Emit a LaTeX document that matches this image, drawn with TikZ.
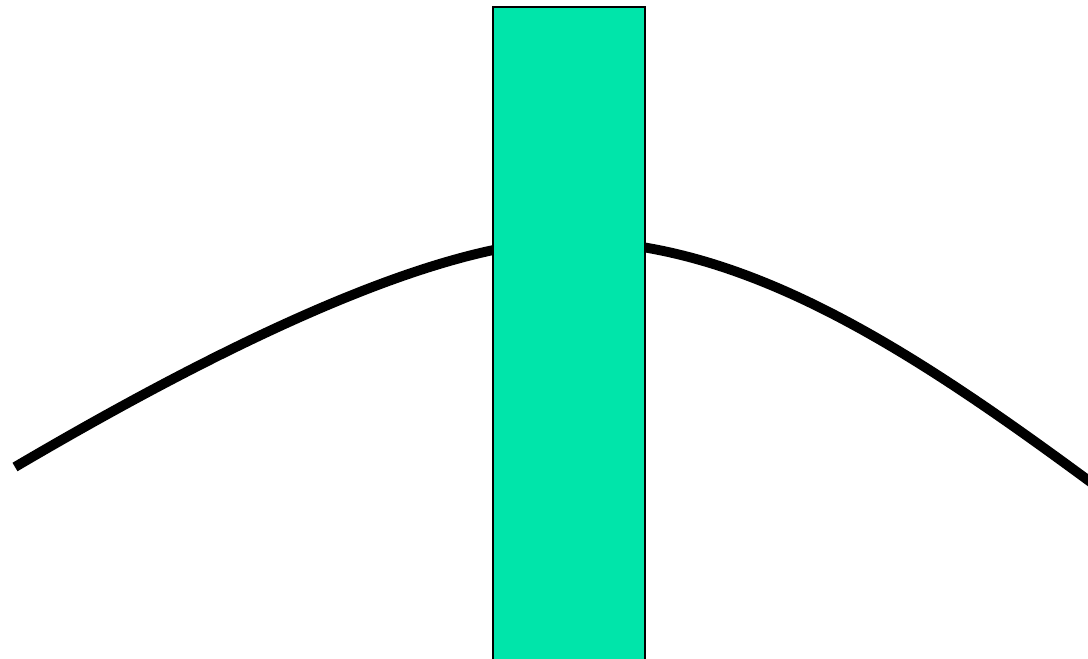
\documentclass[tikz,border=0pt]{standalone}
\definecolor{barmint}{RGB}{0,229,170}
\begin{document}
\begin{tikzpicture}[x=0.025cm, y=-0.025cm,
    curve/.style={line width=7pt, line cap=butt},
    bar/.style={fill=barmint, draw=black, line width=0.9pt}]
  \useasboundingbox (0,0) rectangle (1088,659);
  \clip (0,0) rectangle (1088,659);
  % Curva
  \coordinate (izq) at (15,467);
  \coordinate (cima) at (570,241);
  \coordinate (der) at (1100,489);
  \draw[curve] (izq) .. controls (175,373) and (420,241) .. (cima)
                     .. controls (750,241) and (920,356) .. (der);
  % Barra
  \draw[bar] (493,7) rectangle (645,670);
\end{tikzpicture}
\end{document}
